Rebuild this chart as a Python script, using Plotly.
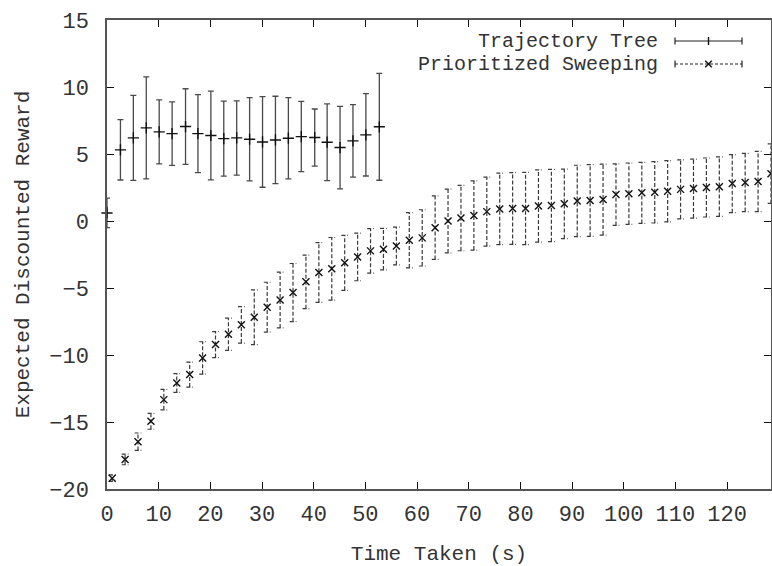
import plotly.graph_objects as go

# Trajectory Tree: mean reward and half-width of the error bar
tt_time = [0.0, 2.6, 5.1, 7.6, 10.1, 12.6, 15.2, 17.6, 20.1, 22.6, 25.1,
           27.6, 30.1, 32.6, 35.1, 37.6, 40.2, 42.6, 45.1, 47.6, 50.1, 52.7]
tt_reward = [0.6, 5.31, 6.2, 6.95, 6.65, 6.52, 7.05, 6.52, 6.38, 6.15, 6.2,
             6.1, 5.9, 6.05, 6.18, 6.3, 6.23, 5.88, 5.48, 5.98, 6.43, 7.03]
tt_err = [1.1, 2.25, 3.17, 3.81, 2.39, 2.37, 2.82, 2.91, 3.31, 2.8, 2.77,
          3.1, 3.38, 3.26, 3.03, 2.62, 2.13, 2.86, 3.08, 2.7, 3.07, 3.99]

# Prioritized Sweeping: mean reward and half-width of the error bar
ps_time = [1.0, 3.5, 6.0, 8.5, 11.0, 13.5, 16.0, 18.5, 21.0, 23.5, 26.0,
           28.5, 31.0, 33.5, 36.0, 38.5, 41.0, 43.5, 46.0, 48.5, 51.0, 53.5,
           56.0, 58.5, 61.0, 63.5, 66.0, 68.5, 71.0, 73.5, 76.0, 78.5, 81.0,
           83.5, 86.0, 88.5, 91.0, 93.5, 96.0, 98.5, 101.0, 103.5, 106.0,
           108.5, 111.0, 113.5, 116.0, 118.5, 121.0, 123.5, 126.0, 128.5]
ps_reward = [-19.19, -17.79, -16.47, -14.95, -13.33, -12.09, -11.46, -10.22,
             -9.22, -8.45, -7.75, -7.18, -6.43, -5.9, -5.34, -4.54, -3.84,
             -3.57, -3.12, -2.68, -2.23, -2.1, -1.86, -1.44, -1.26, -0.5, 0.0,
             0.22, 0.41, 0.7, 0.9, 0.93, 0.93, 1.12, 1.16, 1.28, 1.5, 1.53,
             1.6, 1.97, 2.04, 2.1, 2.14, 2.22, 2.36, 2.42, 2.5, 2.56, 2.79,
             2.87, 2.95, 3.53]
ps_err = [0.25, 0.4, 0.65, 0.59, 0.76, 0.7, 0.93, 1.21, 0.97, 1.2, 1.36,
          2.04, 1.86, 2.08, 2.17, 2.0, 2.23, 2.34, 2.05, 1.78, 1.66, 1.55,
          1.41, 2.06, 2.1, 2.37, 2.38, 2.44, 2.58, 2.57, 2.67, 2.68, 2.7,
          2.69, 2.7, 2.59, 2.66, 2.67, 2.65, 2.3, 2.29, 2.28, 2.29, 2.29,
          2.2, 2.2, 2.2, 2.22, 2.17, 2.17, 2.25, 2.22]

x_ticks = list(range(0, 130, 10))
y_ticks = list(range(-20, 20, 5))

FONT = "Liberation Mono"
INK = "#333333"

fig = go.Figure()

# solid error bars with "+" points
fig.add_trace(go.Scatter(
    x=tt_time, y=tt_reward, mode="markers", name="Trajectory Tree",
    marker=dict(symbol="cross-thin", size=8, line=dict(width=1.4, color="#111")),
    error_y=dict(type="data", array=tt_err, visible=True, thickness=1.3,
                 width=3, color="#4a4a4a"),
    cliponaxis=False, showlegend=False,
))

# dashed error bars (stem + caps as separate sub-paths so the dash restarts)
cap = 0.65
seg_x, seg_y = [], []
for t, r, e in zip(ps_time, ps_reward, ps_err):
    seg_x += [t, t, None]
    seg_y += [r - e, r + e, None]
    for yy in (r - e, r + e):
        seg_x += [t - cap, t + cap, None]
        seg_y += [yy, yy, None]
fig.add_trace(go.Scatter(
    x=seg_x, y=seg_y, mode="lines", connectgaps=False, hoverinfo="skip",
    line=dict(color="#3a3a3a", width=1.2, dash="4px,2px"), showlegend=False,
))
fig.add_trace(go.Scatter(
    x=ps_time, y=ps_reward, mode="markers", name="Prioritized Sweeping",
    marker=dict(symbol="x-thin", size=7, line=dict(width=1.4, color="#111")),
    showlegend=False,
))

# key in the upper right: label text followed by a sample bar
L, R, T, B = 107, 771, 20, 489
W, H = R - L, B - T
px = lambda v: (v - L) / W
py = lambda v: (B - v) / H

rows = [("Trajectory Tree", 41, "solid"), ("Prioritized Sweeping", 64, "3px,2px")]
shapes = []
annotations = []
for label, yrow, dash in rows:
    annotations.append(dict(
        text=label, xref="paper", yref="paper", x=px(660), y=py(yrow + 1),
        xanchor="right", yanchor="middle", showarrow=False,
        font=dict(family=FONT, size=20, color=INK),
    ))
    ln = dict(color="#222", width=1.2, dash=dash)
    shapes.append(dict(type="line", xref="paper", yref="paper",
                       x0=px(675), x1=px(742), y0=py(yrow), y1=py(yrow), line=ln))
    for xe in (675, 742):
        shapes.append(dict(type="line", xref="paper", yref="paper",
                           x0=px(xe), x1=px(xe), y0=py(yrow - 3.5), y1=py(yrow + 3.5),
                           line=dict(color="#222", width=1.2)))
    if dash == "solid":
        shapes.append(dict(type="line", xref="paper", yref="paper",
                           x0=px(708.5), x1=px(708.5), y0=py(yrow - 4), y1=py(yrow + 4),
                           line=dict(color="#111", width=1.4)))
    else:
        for a, b in ((-3.3, 3.3), (3.3, -3.3)):
            shapes.append(dict(type="line", xref="paper", yref="paper",
                               x0=px(708.5 - 3.3), x1=px(708.5 + 3.3),
                               y0=py(yrow + a), y1=py(yrow + b),
                               line=dict(color="#111", width=1.4)))

axis_common = dict(
    showgrid=False, zeroline=False, showline=True, linecolor="#555555",
    linewidth=1.5, mirror="ticks", ticks="inside", ticklen=7, tickwidth=1,
    tickcolor="#111", tickfont=dict(family=FONT, size=22, color=INK),
)

fig.update_layout(
    width=772, height=566,
    margin=dict(l=L, r=772 - R, t=T, b=566 - B),
    paper_bgcolor="white", plot_bgcolor="white",
    font=dict(family=FONT, size=22, color=INK),
    shapes=shapes, annotations=annotations,
    xaxis=dict(range=[0, 128.5], tickvals=x_ticks, ticklabelstandoff=4,
               title=dict(text="Time Taken (s)", standoff=26,
                          font=dict(family=FONT, size=21, color=INK)),
               automargin=False, **axis_common),
    yaxis=dict(range=[-20, 15], tickvals=y_ticks, ticklabelstandoff=12,
               title=dict(text="Expected Discounted Reward", standoff=14,
                          font=dict(family=FONT, size=21, color=INK)),
               automargin=False, **axis_common),
)

fig.write_html("out.html")
